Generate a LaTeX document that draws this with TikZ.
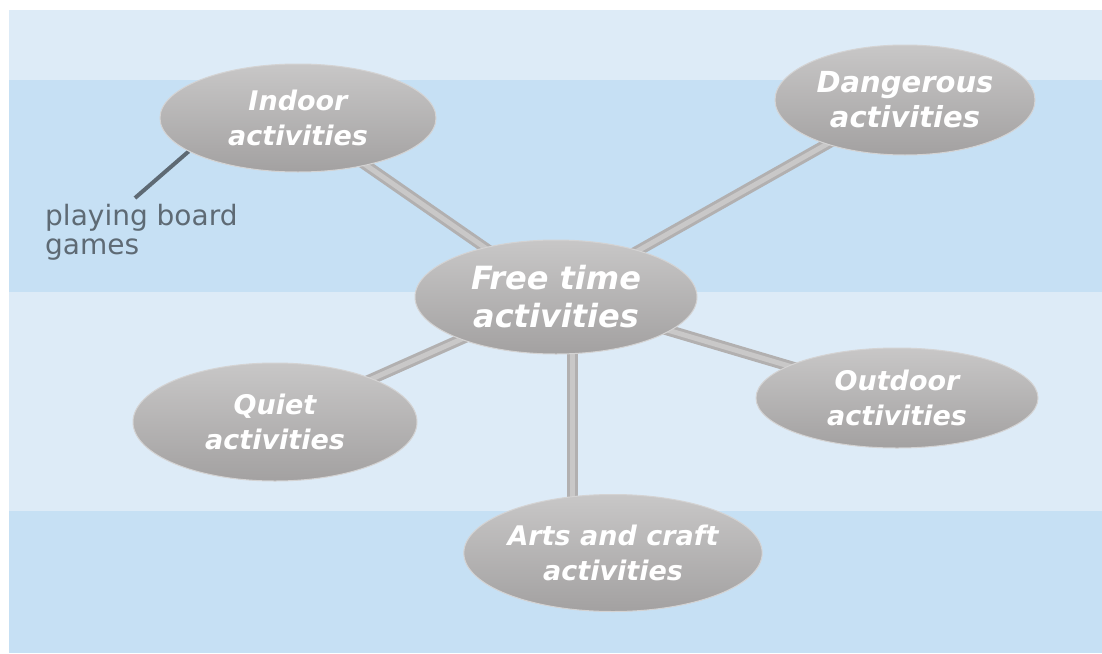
\documentclass[tikz,border=0pt]{standalone}
\usepackage{fontspec}
\setmainfont{DejaVu Sans}
\usetikzlibrary{shapes.geometric}
\definecolor{bandlight}{HTML}{DDEBF7}
\definecolor{banddark}{HTML}{C6E0F4}
\definecolor{ellTop}{HTML}{C8C7C7}
\definecolor{ellMid}{HTML}{AAA9A9}
\definecolor{ellBot}{HTML}{A3A1A1}
\definecolor{ellRim}{HTML}{D4D3D3}
\definecolor{connOut}{HTML}{B2B0B0}
\definecolor{connIn}{HTML}{C9C8C8}
\definecolor{noteGray}{HTML}{5E6A74}
\pgfdeclarelayer{bg}
\pgfdeclarelayer{lines}
\pgfsetlayers{bg,lines,main}
\tikzset{
  bubble/.style={ellipse, inner sep=0pt, align=center, text=white,
    top color=ellTop, middle color=ellMid, bottom color=ellBot,
    draw=ellRim, line width=1pt,
    font=\bfseries\itshape\fontsize{27}{35}\selectfont},
  conn/.style={draw=connOut, line width=3pt, double=connIn, double distance=5pt},
  pointer/.style={draw=noteGray, line width=4pt},
  note/.style={text=noteGray, align=left, anchor=north west, inner sep=0pt,
    font=\fontsize{28}{29}\selectfont}
}
\begin{document}
\begin{tikzpicture}[x=1pt,y=-1pt]
\useasboundingbox (0,0) rectangle (1102,653);
\begin{pgfonlayer}{bg}
\fill[white] (0,0) rectangle (1102,653);
\fill[bandlight] (9,10) rectangle (1102,80);
\fill[banddark] (9,80) rectangle (1102,292);
\fill[bandlight] (9,292) rectangle (1102,511);
\fill[banddark] (9,511) rectangle (1102,653);
\end{pgfonlayer}

\node[bubble, minimum width=282pt, minimum height=114pt,
      font=\bfseries\itshape\fontsize{32}{38}\selectfont] (ft) at (556,297) {Free time\\activities};
\node[bubble, minimum width=276pt, minimum height=108pt] (in) at (298,118) {Indoor\\activities};
\node[bubble, minimum width=260pt, minimum height=110pt,
      font=\bfseries\itshape\fontsize{29}{35}\selectfont] (dg) at (905,100) {Dangerous\\activities};
\node[bubble, minimum width=282pt, minimum height=100pt] (od) at (897,398) {Outdoor\\activities};
\node[bubble, minimum width=284pt, minimum height=118pt] (qt) at (275,422) {Quiet\\activities};
\node[bubble, minimum width=284pt, minimum height=117pt] (ar) at (613,553) {Arts and craft\\activities};

\node[note] (bgm) at (45,204) {playing board\\games};
\coordinate (tip) at (135,198);

\begin{pgfonlayer}{lines}
\draw[conn] (ft.center) -- (in.center);
\draw[conn] (ft.center) -- (dg.center);
\draw[conn] (ft.center) -- (od.center);
\draw[conn] (ft.center) -- (qt.center);
\draw[conn] ([xshift=16pt]ft.center) -- ([xshift=16pt]ft.center |- ar.center);
\draw[pointer] (in.197) -- (tip);
\end{pgfonlayer}
\end{tikzpicture}
\end{document}
